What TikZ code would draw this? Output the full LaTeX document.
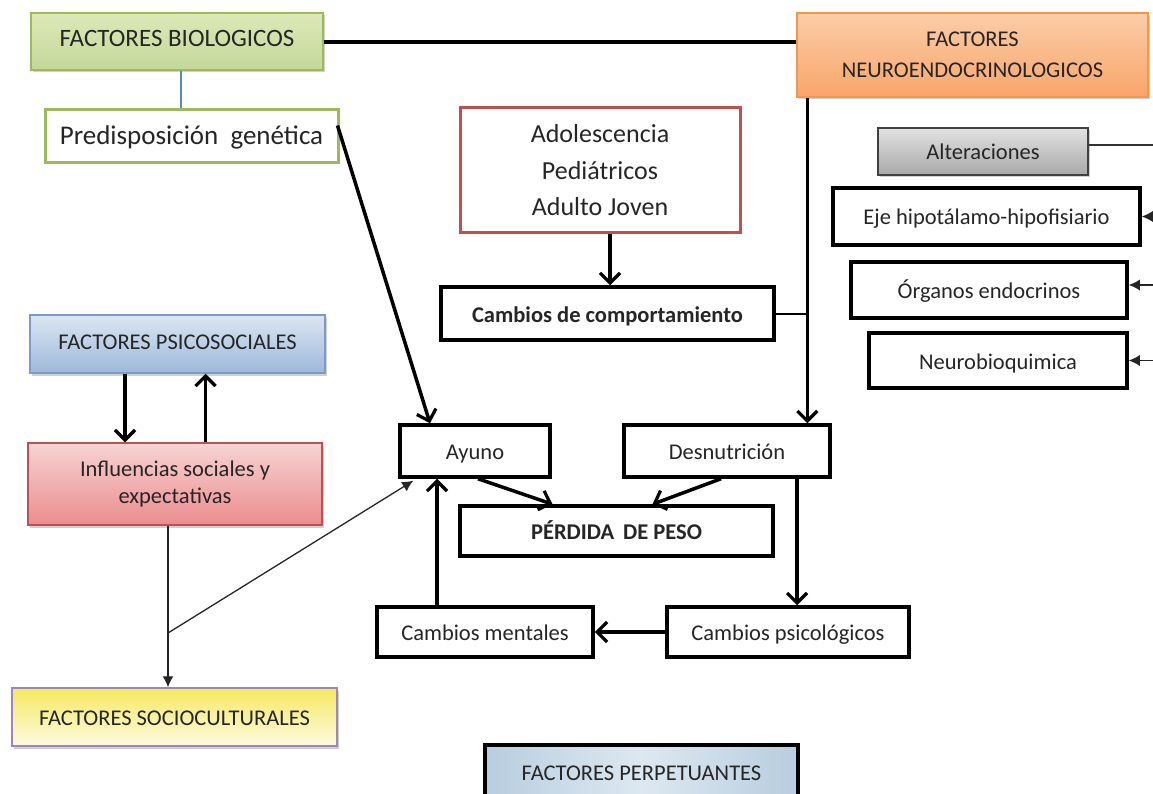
\documentclass[tikz,border=0pt]{standalone}
\usepackage{fontspec}
\setmainfont{Carlito}
\usetikzlibrary{arrows.meta,shadows}
\definecolor{txt}{HTML}{262626}
\definecolor{grnline}{HTML}{9BBB59}
\definecolor{grntop}{HTML}{DDE9B8}
\definecolor{grnbot}{HTML}{C3D799}
\definecolor{orgline}{HTML}{F79646}
\definecolor{orgtop}{HTML}{FBCDA8}
\definecolor{orgbot}{HTML}{F9A56A}
\definecolor{bluline}{HTML}{7C9CC8}
\definecolor{blutop}{HTML}{DCE6F2}
\definecolor{blubot}{HTML}{9DB8DB}
\definecolor{redline}{HTML}{C0504D}
\definecolor{redtop}{HTML}{F7D3D3}
\definecolor{redbot}{HTML}{EC8C8E}
\definecolor{yeltop}{HTML}{F6E95F}
\definecolor{yelbot}{HTML}{FDFAE0}
\definecolor{purline}{HTML}{9E86BC}
\definecolor{graytop}{HTML}{E2E2E2}
\definecolor{graybot}{HTML}{A8A8A8}
\definecolor{perpedge}{HTML}{B8CDDF}
\definecolor{perpmid}{HTML}{DDE8F1}
\definecolor{linkblue}{HTML}{5B87C6}
\begin{document}
\begin{tikzpicture}[x=1pt,y=-1pt,
  box/.style={align=center, inner sep=0pt, text=txt,
    font=\fontsize{22.5}{27}\selectfont},
  oneline/.style={text height=16pt, text depth=5pt},
  lowline/.style={text height=20pt, text depth=3pt},
  blackbox/.style={box, lowline, draw=black, line width=3.5pt, fill=white},
  softshadow/.style={drop shadow={shadow xshift=2pt, shadow yshift=-2.5pt,
    opacity=.3, fill=black!60}},
  colorbox/.style={box, draw, line width=1.5pt, shading=axis, softshadow},
  heavy/.style={line width=3.5pt, draw=black},
  heavyarrow/.style={heavy, -{Straight Barb[length=10pt,width=20pt,line width=3.2pt]}},
  thinarrow/.style={line width=1.3pt, draw=black!85, -{Latex[length=11pt,width=11pt]}},
  sidearrow/.style={line width=1.3pt, draw=black!85, -{Latex[length=11pt,width=11pt]}},
]
\useasboundingbox (0,0) rectangle (1153,794);
\clip (0,0) rectangle (1153,794);
\fill[white] (0,0) rectangle (1153,794);

% --- boxes ---------------------------------------------------------------
\node[colorbox, oneline, draw=grnline, top color=grntop, bottom color=grnbot,
  minimum width=292, minimum height=57, font=\fontsize{25}{30}\selectfont]
  (bio) at (177,41.5) {FACTORES BIOLOGICOS};
\node[box, lowline, draw=grnline, line width=3pt, fill=white,
  minimum width=293, minimum height=53, font=\fontsize{27}{32}\selectfont]
  (pre) at (191.5,136.5) {Predisposición\hspace{0.45em}genética};
\node[colorbox, draw=orgline, top color=orgtop, bottom color=orgbot,
  minimum width=351, minimum height=84, font=\fontsize{22.5}{31}\selectfont]
  (neuro) at (972.5,55) {FACTORES\\NEUROENDOCRINOLOGICOS};
\node[box, draw=redline, line width=3pt, fill=white,
  minimum width=280, minimum height=125, font=\fontsize{26}{36.5}\selectfont]
  (edad) at (600,170.5) {Adolescencia\\Pediátricos\\Adulto Joven};
\node[blackbox, minimum width=333, minimum height=53,
  font=\fontsize{22.5}{27}\bfseries\selectfont]
  (comp) at (607.5,313.5) {Cambios de comportamiento};
\node[colorbox, lowline, draw=black!75, top color=graytop, bottom color=graybot,
  line width=2pt, minimum width=210, minimum height=47]
  (alt) at (983,151.5) {Alteraciones};
\node[blackbox, minimum width=307, minimum height=57]
  (eje) at (986.5,216.5) {Eje hipotálamo-hipofisiario};
\node[blackbox, minimum width=276, minimum height=56]
  (org) at (989,290) {Órganos endocrinos};
\node[blackbox, minimum width=258, minimum height=55]
  (nbq) at (998,360.5) {Neurobioquimica};
\node[colorbox, oneline, draw=bluline, top color=blutop, bottom color=blubot,
  minimum width=295, minimum height=58]
  (psico) at (177.5,344) {FACTORES PSICOSOCIALES};
\node[colorbox, draw=redline, top color=redtop, bottom color=redbot,
  minimum width=294, minimum height=82]
  (infl) at (175,484) {Influencias sociales y\\expectativas};
\node[colorbox, lowline, draw=purline, top color=yeltop, bottom color=yelbot,
  minimum width=325, minimum height=58]
  (socio) at (174.5,717) {FACTORES SOCIOCULTURALES};
\node[blackbox, minimum width=150, minimum height=52]
  (ayuno) at (475,451) {Ayuno};
\node[blackbox, minimum width=206, minimum height=52]
  (desn) at (727,451) {Desnutrición};
\node[blackbox, minimum width=313, minimum height=50,
  font=\fontsize{22.5}{27}\bfseries\selectfont]
  (perdida) at (616.5,531) {PÉRDIDA\hspace{0.4em}DE PESO};
\node[blackbox, minimum width=242, minimum height=50]
  (psicol) at (788,632) {Cambios psicológicos};
\node[blackbox, minimum width=216, minimum height=50]
  (ment) at (485,632) {Cambios mentales};
% the lower part of this box runs past the bottom edge
\node[box, draw=black, line width=3.5pt, left color=perpedge, right color=perpedge,
  middle color=perpmid, minimum width=313, minimum height=76,
  text height=16pt, text depth=5pt, anchor=north] (perp) at (641.5,743)
  {\raisebox{8pt}{FACTORES PERPETUANTES}};

% --- connectors ----------------------------------------------------------
\coordinate (rim) at (1165,0);
\coordinate (fork) at (168,633);
\coordinate (trunk) at ([xshift=11]neuro.south west);

\draw[heavy] ([yshift=-0.5]bio.east) -- ([yshift=-0.5]bio.east -| neuro.west);
\draw[line width=1.3pt, draw=linkblue] ([xshift=4]bio.south) -- ([xshift=4]bio.south |- pre.north);

\draw[heavyarrow] (trunk) -- (trunk |- desn.north);
\draw[heavy, line width=2pt] (comp.east) -- (comp.east -| trunk);
\draw[heavyarrow] ([xshift=10]edad.south) -- ([xshift=10]edad.south |- comp.north);

\draw[line width=1.3pt, draw=black!80] ([yshift=6.5]alt.east) -- ([yshift=6.5]alt.east -| rim);
\draw[sidearrow] (eje.east -| rim) -- (eje.east);
\draw[sidearrow] ([yshift=5]org.east -| rim) -- ([yshift=5]org.east);
\draw[sidearrow] (nbq.east -| rim) -- (nbq.east);

\draw[heavyarrow] ([xshift=-2,yshift=11]pre.east) -- ([xshift=-45]ayuno.north);

\draw[heavyarrow] ([xshift=-52.5]psico.south) -- ([xshift=-52.5]psico.south |- infl.north);
\draw[heavyarrow] ([xshift=30.5]infl.north) -- ([xshift=30.5]infl.north |- psico.south);

\draw[thinarrow] ([xshift=-7]infl.south) -- ([xshift=-7]infl.south |- socio.north);
\draw[thinarrow] (fork) -- ([xshift=15,yshift=-2]ayuno.south west);

\draw[heavyarrow] ([xshift=3]ayuno.south) -- ([xshift=-64]perdida.north);
\draw[heavyarrow] ([xshift=-6]desn.south) -- ([xshift=36]perdida.north);
\draw[heavyarrow] ([xshift=70]desn.south) -- ([xshift=70]desn.south |- psicol.north);
\draw[heavyarrow] (psicol.west) -- (ment.east);
\draw[heavyarrow] ([xshift=-48]ment.north) -- ([xshift=-48]ment.north |- ayuno.south);
\end{tikzpicture}
\end{document}
